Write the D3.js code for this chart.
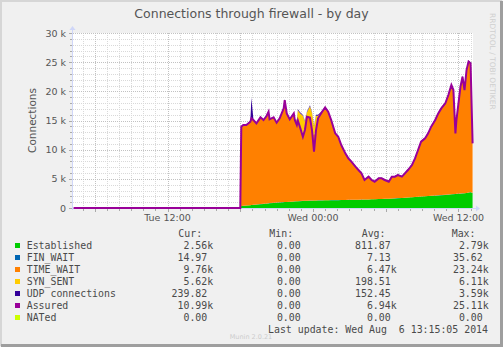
<!DOCTYPE html>
<html>
<head>
<meta charset="utf-8">
<title>Connections through firewall - by day</title>
<script src="https://cdn.jsdelivr.net/npm/d3@7"></script>
<style>
    body { margin: 0; background: #f0f0f0; }
    svg { display: block; }
    text { fill: #555; font-family: "DejaVu Sans", sans-serif; }
    .mono { font-family: "DejaVu Sans Mono", monospace; font-size: 9.9px; white-space: pre; fill: #4a4a4a; }
</style>
</head>
<body>
<svg class="chart"></svg>
<script>
// sample times, "day HH:MM" in Aug 2014 (5 = Tue, 6 = Wed)
const times = [
    "5 04:15", "5 18:00",
    "5 18:05", "5 18:15", "5 18:30", "5 18:50", "5 18:55", "5 19:05", "5 19:20", "5 19:40", "5 19:55",
    "5 20:10", "5 20:20", "5 20:25", "5 20:45", "5 21:00", "5 21:15", "5 21:35", "5 21:40", "5 21:50",
    "5 22:05", "5 22:25", "5 22:30", "5 22:40", "5 22:45", "5 22:55", "5 23:10", "5 23:20", "5 23:30",
    "5 23:45", "5 23:55",
    "6 00:05", "6 00:15", "6 00:25", "6 00:45", "6 01:00", "6 01:15", "6 01:30", "6 01:50", "6 02:05",
    "6 02:20", "6 02:40", "6 02:55", "6 03:10", "6 03:30", "6 03:45", "6 04:00", "6 04:15", "6 04:35",
    "6 04:50", "6 05:05", "6 05:25", "6 05:40", "6 05:55", "6 06:15", "6 06:30", "6 06:45", "6 07:00",
    "6 07:20", "6 07:35", "6 07:50", "6 08:10", "6 08:25", "6 08:40", "6 08:55", "6 09:15", "6 09:30",
    "6 09:45", "6 10:05", "6 10:20", "6 10:35", "6 10:55", "6 11:10", "6 11:25", "6 11:35", "6 11:45",
    "6 11:50", "6 12:10", "6 12:20", "6 12:30", "6 12:40", "6 12:50", "6 13:00", "6 13:10"
];
const established = [
    0, 0,
    340, 360, 420, 480, 500, 530, 590, 650, 700, 760, 790, 820, 870, 910, 950, 990, 1010, 1030,
    1070, 1100, 1120, 1140, 1150, 1170, 1210, 1220, 1230, 1250, 1260,
    1270, 1280, 1290, 1300, 1310, 1320, 1330, 1340, 1350, 1360, 1370, 1380, 1390, 1400, 1410,
    1430, 1450, 1470, 1490, 1510, 1530, 1550, 1570, 1590, 1620, 1650, 1690, 1720, 1760, 1800,
    1840, 1880, 1920, 1960, 2000, 2040, 2080, 2120, 2160, 2200, 2240, 2290, 2340, 2360, 2380,
    2400, 2450, 2490, 2510, 2560, 2640, 2700, 2560
];
const finWait = [
    0, 0,
    10, 10, 12, 12, 14, 14, 15, 15, 16, 16, 16, 18, 18, 18, 20, 20, 20, 20,
    22, 22, 22, 22, 22, 24, 24, 24, 24, 24, 24,
    24, 24, 24, 24, 24, 22, 22, 20, 20, 18, 18, 16, 14, 12, 10,
    8, 6, 5, 4, 4, 4, 4, 4, 4, 5, 5, 6, 6, 7, 8,
    9, 10, 10, 12, 12, 14, 14, 16, 16, 18, 18, 20, 20, 20, 22,
    22, 24, 26, 28, 30, 32, 35, 15
];
const timeWait = [
    0, 0,
    13540, 13810, 13750, 14260, 14810, 14490, 13860, 14830, 14310, 14940, 15650, 14310, 14600, 13640,
    14350, 16020, 17430, 15120, 14060, 15050, 13890, 13020, 13780, 12700, 11570, 12080, 14350, 14180, 12040,
    11210, 12020, 14010, 15140, 15870, 15120, 13680, 11390, 10800, 9370, 7930, 7060, 6490, 5620, 5040,
    4450, 3290, 3850, 3260, 2950, 3500, 3480, 3180, 2870, 3700, 3670, 3900, 3590, 4120, 4650,
    5470, 6570, 7960, 9350, 9880, 10700, 11800, 12890, 13990, 14810, 15630, 17010, 18670, 17790, 10350,
    12610, 18280, 19940, 17630, 21010, 22400, 22020, 8460
];
const synSent = [
    0, 0,
    0, 0, 0, 0, 0, 0, 0, 0, 0, 0, 0, 0, 0, 0, 0, 0, 0, 0,
    0, 0, 0, 800, 1800, 2400, 3000, 1500, 800, 2000, 3000,
    1500, 2500, 500, 0, 0, 0, 0, 0, 0, 0, 0, 0, 0, 0, 0,
    0, 0, 0, 0, 0, 0, 0, 0, 0, 0, 0, 0, 0, 0, 0,
    0, 0, 0, 0, 0, 0, 0, 0, 0, 0, 0, 0, 0, 0, 0,
    0, 0, 0, 0, 0, 0, 0, 0
];
const udp = [
    0, 0,
    150, 140, 160, 200, 3590, 180, 150, 160, 150, 170, 300, 160, 150, 140, 160, 200, 220, 180,
    150, 160, 150, 150, 170, 160, 150, 140, 160, 170, 150,
    140, 150, 160, 170, 180, 180, 200, 200, 210, 200, 210, 200, 190, 200, 190,
    180, 190, 180, 170, 180, 170, 160, 170, 160, 170, 160, 170, 180, 190, 200,
    210, 200, 210, 220, 200, 210, 220, 230, 220, 230, 220, 240, 250, 230, 220,
    230, 240, 250, 240, 260, 270, 250, 240
];
const assured = [
    0, 0,
    13940, 14230, 14230, 14800, 15370, 15080, 14510, 15540, 15080, 15770, 16510, 15200, 15540, 14620,
    15370, 17080, 18510, 16220, 15200, 16220, 15080, 14230, 15000, 13940, 12220, 13370, 15650, 15500, 13370,
    9650, 13370, 15370, 16510, 17250, 16510, 15080, 12800, 12220, 10800, 9370, 8510, 7940, 7080, 6510,
    5940, 4800, 5370, 4800, 4510, 5080, 5080, 4800, 4510, 5370, 5370, 5650, 5370, 5940, 6510,
    7370, 8510, 9940, 11370, 11940, 12800, 13940, 15080, 16220, 17080, 17940, 19370, 21080, 20220, 12800,
    15080, 20800, 22510, 20220, 23650, 25110, 24800, 11080
];

// legend
const legendNames = ["Established", "FIN_WAIT", "TIME_WAIT", "SYN_SENT", "UDP connections", "Assured", "NATed"];
const legendColors = ["#00CC00", "#0066B3", "#FF8000", "#FFCC00", "#330099", "#990099", "#CCFF00"];
const curVals = [2560, 14.97, 9760, 5620, 239.82, 10990, 0];
const minVals = [0, 0, 0, 0, 0, 0, 0];
const avgVals = [811.87, 7.13, 6470, 198.51, 152.45, 6940, 0];
const maxVals = [2790, 35.62, 23240, 6110, 3590, 25110, 0];

var W = 503, H = 347;
var plot = {left: 73, right: 473, top: 33, bottom: 208};

var svg = d3.select(".chart").attr("width", W).attr("height", H);

// frame
svg.append("rect").attr("width", W).attr("height", H).attr("fill", "#f0f0f0");
svg.append("path").attr("d", "M1,346 V1 H502").attr("fill", "none").attr("stroke", "#d6d6d6").attr("stroke-width", 2);
svg.append("path").attr("d", "M1,345.5 H501.5 V1").attr("fill", "none").attr("stroke", "#9e9e9e").attr("stroke-width", 3);

var parseTime = d3.timeParse("%Y-%m-%d %H:%M");
var rows = times.map(function(t, i) {
    return {
        date: parseTime("2014-08-0" + t),
        established: established[i],
        finWait: finWait[i],
        timeWait: timeWait[i],
        synSent: synSent[i],
        udp: udp[i],
        assured: assured[i]
    };
});

var x = d3.scaleTime()
    .domain([parseTime("2014-08-05 04:12"), parseTime("2014-08-06 13:12")])
    .range([plot.left, plot.right]);
var y = d3.scaleLinear().domain([0, 30000]).range([plot.bottom, plot.top]);

// canvas
svg.append("rect")
    .attr("x", plot.left).attr("y", plot.top)
    .attr("width", plot.right - plot.left).attr("height", plot.bottom - plot.top)
    .attr("fill", "#fff");

var px = function(v) { return Math.round(v) + 0.5; };

// grid
var grid = svg.append("g").attr("fill", "none").attr("stroke-dasharray", "1,1");
grid.selectAll(".vmin").data(x.ticks(d3.timeHour.every(1)))
    .enter().append("line")
    .attr("x1", d => px(x(d))).attr("x2", d => px(x(d)))
    .attr("y1", plot.top).attr("y2", plot.bottom)
    .attr("stroke", "#d9d9d9");
grid.selectAll(".hmin").data(y.ticks(30))
    .enter().append("line")
    .attr("x1", plot.left).attr("x2", plot.right)
    .attr("y1", d => px(y(d))).attr("y2", d => px(y(d)))
    .attr("stroke", "#d9d9d9");
grid.selectAll(".vmaj").data(x.ticks(d3.timeHour.every(6)))
    .enter().append("line")
    .attr("x1", d => px(x(d))).attr("x2", d => px(x(d)))
    .attr("y1", plot.top).attr("y2", plot.bottom)
    .attr("stroke", "#c2c2c2");
grid.selectAll(".hmaj").data(y.ticks(6))
    .enter().append("line")
    .attr("x1", plot.left).attr("x2", plot.right)
    .attr("y1", d => px(y(d))).attr("y2", d => px(y(d)))
    .attr("stroke", "#c2c2c2");

// stacked areas
var keys = ["established", "finWait", "timeWait", "synSent", "udp"];
var colors = {established: "#00CC00", finWait: "#0066B3", timeWait: "#FF8000", synSent: "#FFCC00", udp: "#330099"};
var series = d3.stack().keys(keys)(rows);
var area = d3.area()
    .x(d => x(d.data.date))
    .y0(d => y(d[0]))
    .y1(d => y(d[1]));
svg.append("g").selectAll("path").data(series)
    .enter().append("path")
    .attr("d", area)
    .attr("fill", d => colors[d.key]);

// axes
var axisCol = "#CFD6F8";
svg.append("line").attr("x1", plot.left - 2).attr("x2", plot.right + 4)
    .attr("y1", plot.bottom + 0.5).attr("y2", plot.bottom + 0.5).attr("stroke", axisCol);
svg.append("path").attr("d", "M" + (plot.right + 3) + "," + (plot.bottom - 2.5) + " l4,3 l-4,3 z").attr("fill", axisCol);
svg.append("line").attr("x1", plot.left - 0.5).attr("x2", plot.left - 0.5)
    .attr("y1", plot.bottom + 2).attr("y2", plot.top - 4).attr("stroke", axisCol);
svg.append("path").attr("d", "M" + (plot.left - 3.5) + "," + (plot.top - 3) + " l3,-4 l3,4 z").attr("fill", axisCol);

// tick marks
svg.append("g").selectAll("line").data(x.ticks(d3.timeHour.every(1)))
    .enter().append("line")
    .attr("x1", d => px(x(d))).attr("x2", d => px(x(d)))
    .attr("y1", plot.bottom + 1).attr("y2", d => plot.bottom + (d.getHours() % 6 === 0 ? 4 : 3))
    .attr("stroke", "#aaa");
svg.append("g").selectAll("line").data(y.ticks(30))
    .enter().append("line")
    .attr("x1", d => plot.left - (d % 5000 === 0 ? 4 : 3)).attr("x2", plot.left - 1)
    .attr("y1", d => px(y(d))).attr("y2", d => px(y(d)))
    .attr("stroke", "#aaa");

// assured line
var line = d3.line().x(d => x(d.date)).y(d => y(d.assured));
svg.append("path").datum(rows)
    .attr("d", line)
    .attr("fill", "none")
    .attr("stroke", "#990099")
    .attr("stroke-width", 2);

// axis labels
var fmtTime = d3.timeFormat("%a %H:%M");
svg.append("g").selectAll("text").data(x.ticks(d3.timeHour.every(12)))
    .enter().append("text")
    .attr("x", d => x(d)).attr("y", 221)
    .attr("text-anchor", "middle")
    .attr("font-size", "9.5px")
    .text(d => fmtTime(d));
svg.append("g").selectAll("text").data(y.ticks(6))
    .enter().append("text")
    .attr("x", 66).attr("y", d => y(d) + 3.5)
    .attr("text-anchor", "end")
    .attr("font-size", "9.5px")
    .text(d => d === 0 ? "0" : (d / 1000) + " k");

svg.append("text")
    .attr("transform", "translate(36," + ((plot.top + plot.bottom) / 2) + ") rotate(-90)")
    .attr("text-anchor", "middle")
    .attr("font-size", "10.5px")
    .text("Connections");

svg.append("text")
    .attr("x", W / 2).attr("y", 18)
    .attr("text-anchor", "middle")
    .attr("font-size", "12.5px")
    .text("Connections through firewall - by day");

svg.append("text")
    .attr("transform", "translate(490,13) rotate(90)")
    .attr("font-size", "7.5px")
    .style("fill", "#cfcfcf")
    .text("RRDTOOL / TOBI OETIKER");

// legend
var fmtVal = function(v) {
    return v >= 1000 ? (v / 1000).toFixed(2).padStart(6) + "k" : v.toFixed(2).padStart(6) + " ";
};
var cols = [171.6, 265, 355, 447];
var heads = [["Cur:", 178.3], ["Min:", 269.3], ["Avg:", 361.7], ["Max:", 451.7]];
svg.append("g").selectAll("text").data(heads)
    .enter().append("text")
    .attr("class", "mono")
    .attr("x", d => d[1]).attr("y", 237)
    .text(d => d[0]);

var leg = svg.append("g").selectAll("g").data(legendNames)
    .enter().append("g")
    .attr("transform", (d, i) => "translate(0," + (249 + i * 12) + ")");
leg.append("rect")
    .attr("x", 15).attr("y", -6).attr("width", 5).attr("height", 5)
    .attr("fill", (d, i) => legendColors[i]);
leg.append("text").attr("class", "mono").attr("x", 26.7).text(d => d);
[curVals, minVals, avgVals, maxVals].forEach(function(vals, c) {
    leg.append("text").attr("class", "mono").attr("x", cols[c]).text((d, i) => fmtVal(vals[i]));
});

svg.append("text")
    .attr("class", "mono")
    .attr("x", 488).attr("y", 333)
    .attr("text-anchor", "end")
    .text("Last update: Wed Aug  6 13:15:05 2014");

svg.append("text")
    .attr("x", 251).attr("y", 339)
    .attr("text-anchor", "middle")
    .attr("font-size", "6.5px")
    .style("fill", "#cccccc")
    .text("Munin 2.0.21");
</script>
</body>
</html>
